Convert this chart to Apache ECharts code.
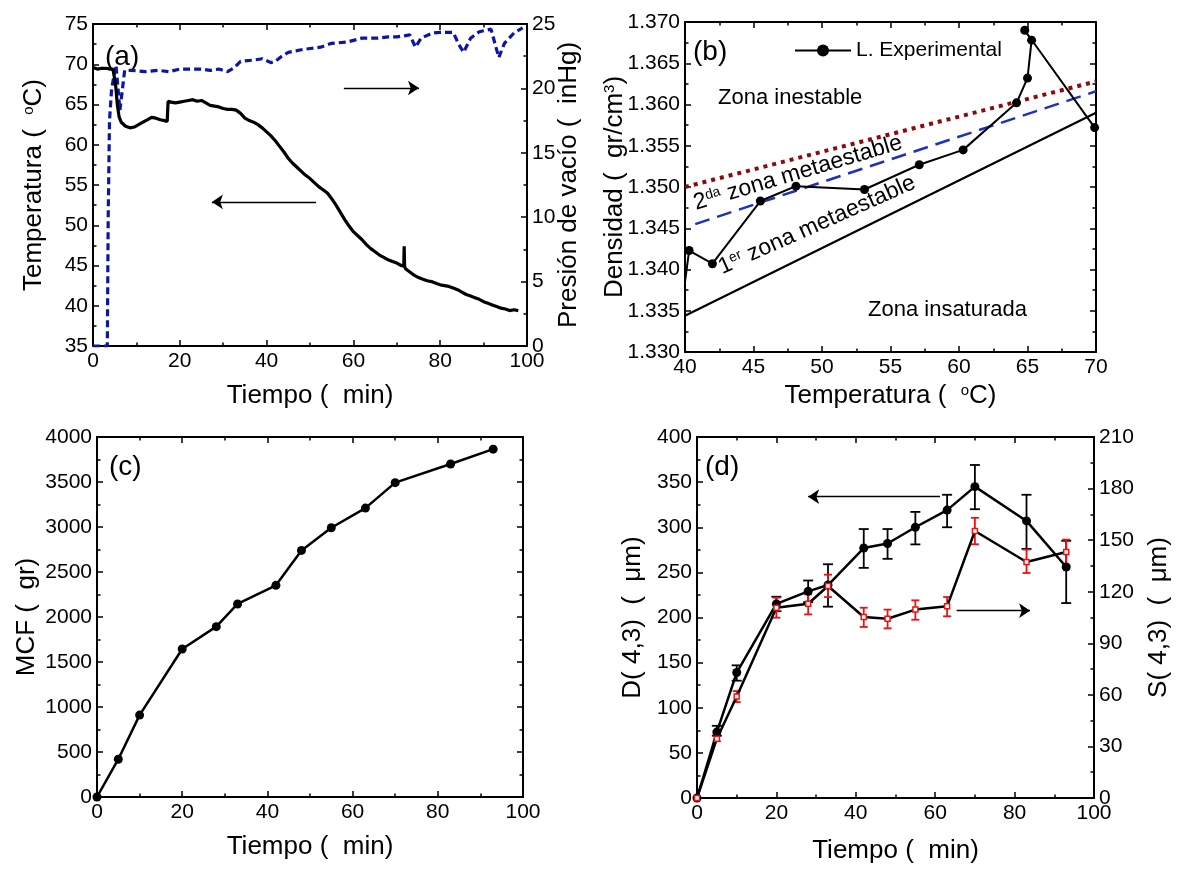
<!DOCTYPE html>
<html><head><meta charset="utf-8">
<script src="https://cdn.jsdelivr.net/npm/echarts@6/dist/echarts.min.js"></script>
<style>html,body{margin:0;padding:0;background:#fff}#c{width:1180px;height:869px}</style>
</head><body><div id="c"></div>
<script>
// ---------- Panel (a) ----------
const tempTime = [0,1,2,3,4,4.6,5.2,5.6,6.0,6.5,7.5,8.5,9.5,10.5,11.5,12.5,13.5,14.5,15.5,16.5,17.1,17.3,18,19,20,21,22,23,24,25,26,27,28,29,30,31,32,33,34,35,36,37,38,39,40,41,42,43,44,45,46,47,48,49,50,51,52,53,54,55,56,57,58,59,60,61,62,63,64,65,66,67,68,69,70,71,71.6,71.7,71.8,72,73,74,75,76,77,78,79,80,81,82,83,84,85,86,87,88,89,90,91,92,93,94,95,96,97,98];
const tempValue = [69.6,69.4,69.5,69.5,69.4,69.4,67.5,65.0,63.5,62.8,62.3,62.1,62.2,62.5,62.8,63.1,63.4,63.3,63.1,63.0,62.9,65.4,65.3,65.2,65.3,65.4,65.5,65.6,65.4,65.5,65.2,64.9,64.8,64.7,64.5,64.4,64.4,64.3,63.9,63.3,63.0,62.8,62.5,62.1,61.6,61.1,60.5,59.8,59.1,58.3,57.7,57.2,56.7,56.2,55.8,55.3,54.8,54.4,54.0,53.3,52.5,51.6,50.7,49.9,49.2,48.7,48.2,47.6,47.1,46.7,46.3,46.0,45.7,45.5,45.3,45.0,44.9,47.4,44.9,44.6,44.2,43.8,43.5,43.3,43.1,43.0,42.8,42.6,42.5,42.4,42.2,42.0,41.7,41.4,41.2,41.0,40.8,40.5,40.3,40.1,39.9,39.7,39.6,39.4,39.5,39.4];
const presTime = [0,3.3,3.5,3.8,4.3,5.3,6.2,7.3,9,12,15,17.5,20,22,25,27,29,31,32.5,34,37,39,41,42,43.5,45,48,50,52.4,55,58.5,62,65.5,68,70,73,74.3,75.6,78.2,80,83,84.3,85.4,87,89,91.7,93.5,94.8,97,99];
const presValue = [0,0,10,17.5,20,21.8,18.3,21.4,21.4,21.3,21.4,21.3,21.5,21.5,21.5,21.4,21.5,21.3,21.6,22.1,22.2,22.3,22.0,22.1,22.5,22.8,23.0,23.1,23.2,23.5,23.6,23.9,23.9,24.0,24.0,24.15,23.2,23.9,24.3,24.35,24.35,23.4,22.8,23.9,24.4,24.6,22.4,23.5,24.3,24.7];
const aArrows = [[57.8,67.05,75.1,67.05],[51.4,52.9,27.4,52.9]];

// ---------- Panel (b) ----------
const expTemp = [40.0,40.3,42.0,45.5,48.1,53.1,57.1,60.3,64.2,65.0,65.3,64.8,69.9];
const expDens = [1.3385,1.3423,1.3407,1.3483,1.3501,1.3497,1.3527,1.3545,1.3602,1.3632,1.3678,1.3690,1.3572];
const solTemp = [40,70];
const solDens = [1.3344,1.3590];
const meta2Temp = [40.75,70];
const meta2Dens = [1.3455,1.3616];
const limTemp = [40,70];
const limDens = [1.3500,1.3628];

// ---------- Panel (c) ----------
const mcfTime = [0,5,10,20,28,33,42,48,55,63,70,83,93];
const mcfValue = [0,420,910,1645,1893,2145,2352,2740,2992,3210,3493,3700,3865];

// ---------- Panel (d) ----------
const dTime = [0,5,10,20,28,33,42,48,55,63,70,83,93];
const dValue = [0,73,139,215,229,236,277,282,300,319,345,307,256];
const dLow = [0,69,130,207,217,212,255,265,281,300,320,276,216];
const dHigh = [0,80,147,223,241,259,298,298,317,336,369,336,285];
const sValue = [0,34.5,59,110.7,113,123.3,105.3,104.3,109.6,111.5,155.3,137.3,143.1];
const sLow = [0,33,55.8,104.9,106.8,116.9,99.5,98.7,103.7,105.7,147.6,130.9,135.3];
const sHigh = [0,37,62.2,116.5,118.5,129.9,110.7,109.6,115,116.9,163,144.5,150.3];
const dArrows = [[61.2,333.9,28.0,333.9],[65.4,207.6,83.9,207.6]];

// ---------- helpers ----------
const FONT = '"Liberation Sans", Arial, sans-serif';
const K = '#000';
const zip = (a, b) => a.map((v, i) => [v, b[i]]);
const zip3 = (a, b, c) => a.map((v, i) => [v, b[i], c[i]]);

function valAxis(o) {
  return Object.assign({
    type: 'value',
    axisLine: {show: true, onZero: false, lineStyle: {color: K, width: 2}},
    axisTick: {show: true, inside: true, length: 6, lineStyle: {color: K, width: 1.5}},
    minorTick: {show: true, splitNumber: 2, length: 3.5, lineStyle: {color: K, width: 1.5}},
    splitLine: {show: false},
    minorSplitLine: {show: false},
    axisLabel: {color: K, fontSize: 21, fontFamily: FONT, margin: 5, formatter: v => String(v)},
    nameLocation: 'middle',
    nameMoveOverlap: false,
    nameTextStyle: {color: K, fontSize: 26, fontFamily: FONT,
      rich: {s: {fontSize: 15, fontFamily: FONT, color: K, verticalAlign: 'top'}}}
  }, o);
}
function frameAxis(o) { return valAxis(Object.assign({axisLabel: {show: false}}, o)); }

function arrows(list) {
  return {
    silent: true, animation: false,
    symbol: ['none', 'arrow'], symbolSize: 11,
    lineStyle: {color: K, width: 1.3, type: 'solid'},
    itemStyle: {color: K},
    label: {show: false},
    data: list.map(p => [{coord: [p[0], p[1]]}, {coord: [p[2], p[3]]}])
  };
}
function errBar(color, half, lw) {
  return function (params, api) {
    const x = api.value(0), lo = api.value(1), hi = api.value(2);
    if (!(hi > lo)) return {type: 'group', children: []};
    const a = api.coord([x, lo]), b = api.coord([x, hi]);
    const s = {stroke: color, lineWidth: lw};
    return {type: 'group', children: [
      {type: 'line', shape: {x1: a[0], y1: a[1], x2: b[0], y2: b[1]}, style: s},
      {type: 'line', shape: {x1: a[0] - half, y1: a[1], x2: a[0] + half, y2: a[1]}, style: s},
      {type: 'line', shape: {x1: b[0] - half, y1: b[1], x2: b[0] + half, y2: b[1]}, style: s}
    ]};
  };
}
const expData = zip(expTemp, expDens).map((p, i) => i === 0 ? {value: p, symbol: 'none'} : p);

const chart = echarts.init(document.getElementById('c'), null, {renderer: 'canvas'});
chart.setOption({
  animation: false,
  backgroundColor: '#fff',
  grid: [
    {left: 93, top: 24, width: 434, height: 322, outerBoundsMode: 'none', containLabel: false},
    {left: 685, top: 22, width: 411, height: 330, outerBoundsMode: 'none', containLabel: false},
    {left: 97, top: 437, width: 426, height: 360, outerBoundsMode: 'none', containLabel: false},
    {left: 697, top: 437, width: 397, height: 361, outerBoundsMode: 'none', containLabel: false}
  ],
  legend: {
    left: 789, top: 35, data: ['L. Experimental'], itemWidth: 56, itemHeight: 15,
    textStyle: {color: K, fontSize: 21, fontFamily: FONT}
  },
  xAxis: [
    valAxis({gridIndex: 0, min: 0, max: 100, interval: 20, name: 'Tiempo (  min)', nameGap: 37}),
    frameAxis({gridIndex: 0, position: 'top', min: 0, max: 100, interval: 20}),
    valAxis({gridIndex: 1, min: 40, max: 70, interval: 5, name: 'Temperatura (  {s|o}C)', nameGap: 31}),
    frameAxis({gridIndex: 1, position: 'top', min: 40, max: 70, interval: 5}),
    valAxis({gridIndex: 2, min: 0, max: 100, interval: 20, name: 'Tiempo (  min)', nameGap: 37}),
    frameAxis({gridIndex: 2, position: 'top', min: 0, max: 100, interval: 20}),
    valAxis({gridIndex: 3, min: 0, max: 100, interval: 20, name: 'Tiempo (  min)', nameGap: 40}),
    frameAxis({gridIndex: 3, position: 'top', min: 0, max: 100, interval: 20})
  ],
  yAxis: [
    valAxis({gridIndex: 0, min: 35, max: 75, interval: 5, name: 'Temperatura (  {s|o}C)', nameGap: 46}),
    valAxis({gridIndex: 0, position: 'right', min: 0, max: 25, interval: 5, name: 'Presión de vacío (  inHg)', nameGap: 29}),
    valAxis({gridIndex: 1, min: 1.33, max: 1.37, interval: 0.005, name: 'Densidad (  gr/cm{s|3})', nameGap: 57,
      axisLabel: {color: K, fontSize: 21, fontFamily: FONT, margin: 5, formatter: v => v.toFixed(3)}}),
    frameAxis({gridIndex: 1, position: 'right', min: 1.33, max: 1.37, interval: 0.005}),
    valAxis({gridIndex: 2, min: 0, max: 4000, interval: 500, name: 'MCF (  gr)', nameGap: 57}),
    frameAxis({gridIndex: 2, position: 'right', min: 0, max: 4000, interval: 500}),
    valAxis({gridIndex: 3, min: 0, max: 400, interval: 50, name: 'D( 4,3)  (  μm)', nameGap: 51}),
    valAxis({gridIndex: 3, position: 'right', min: 0, max: 210, interval: 30, name: 'S( 4,3)  (  μm)', nameGap: 52})
  ],
  series: [
    {type: 'line', xAxisIndex: 0, yAxisIndex: 0, data: zip(tempTime, tempValue), showSymbol: false,
      lineStyle: {color: K, width: 3.2}, z: 3, markLine: arrows(aArrows)},
    {type: 'line', xAxisIndex: 0, yAxisIndex: 1, data: zip(presTime, presValue), showSymbol: false,
      lineStyle: {color: '#0b16a4', width: 3.2, type: [7, 4]}, z: 2},
    {type: 'line', xAxisIndex: 2, yAxisIndex: 2, data: zip(solTemp, solDens), showSymbol: false,
      lineStyle: {color: K, width: 2.2}},
    {type: 'line', xAxisIndex: 2, yAxisIndex: 2, data: zip(meta2Temp, meta2Dens), showSymbol: false,
      lineStyle: {color: '#1f2fbf', width: 2.5, type: [15, 8]}},
    {type: 'line', xAxisIndex: 2, yAxisIndex: 2, data: zip(limTemp, limDens), showSymbol: false,
      lineStyle: {color: '#8e0a0a', width: 4, type: [4, 5]}},
    {type: 'line', name: 'L. Experimental', xAxisIndex: 2, yAxisIndex: 2, data: expData,
      symbol: 'circle', symbolSize: 9, itemStyle: {color: K}, lineStyle: {color: K, width: 2}, z: 4},
    {type: 'line', xAxisIndex: 4, yAxisIndex: 4, data: zip(mcfTime, mcfValue),
      symbol: 'circle', symbolSize: 9, itemStyle: {color: K}, lineStyle: {color: K, width: 2.5}},
    {type: 'custom', xAxisIndex: 6, yAxisIndex: 6, data: zip3(dTime, dLow, dHigh),
      encode: {x: 0, y: [1, 2]}, renderItem: errBar('#000', 5, 1.8), z: 2},
    {type: 'custom', xAxisIndex: 6, yAxisIndex: 7, data: zip3(dTime, sLow, sHigh),
      encode: {x: 0, y: [1, 2]}, renderItem: errBar('#ee1111', 4, 1.8), z: 2},
    {type: 'line', xAxisIndex: 6, yAxisIndex: 6, data: zip(dTime, dValue),
      symbol: 'circle', symbolSize: 9, itemStyle: {color: K}, lineStyle: {color: K, width: 2.5}, z: 3,
      markLine: arrows(dArrows)},
    {type: 'line', xAxisIndex: 6, yAxisIndex: 7, data: zip(dTime, sValue),
      symbol: 'rect', symbolSize: 5, itemStyle: {color: '#fff', borderColor: '#ee1111', borderWidth: 1.5},
      lineStyle: {color: K, width: 2.5}, z: 3}
  ],
  graphic: [
    {type: 'text', x: 105, y: 57, style: {text: '(a)', fontSize: 28, fontFamily: FONT, fill: K, align: 'left', verticalAlign: 'middle'}},
    {type: 'text', x: 693, y: 52, style: {text: '(b)', fontSize: 28, fontFamily: FONT, fill: K, align: 'left', verticalAlign: 'middle'}},
    {type: 'text', x: 109, y: 467, style: {text: '(c)', fontSize: 28, fontFamily: FONT, fill: K, align: 'left', verticalAlign: 'middle'}},
    {type: 'text', x: 705, y: 467, style: {text: '(d)', fontSize: 28, fontFamily: FONT, fill: K, align: 'left', verticalAlign: 'middle'}},
    {type: 'text', x: 718, y: 98, style: {text: 'Zona inestable', fontSize: 22, fontFamily: FONT, fill: K, align: 'left', verticalAlign: 'middle'}},
    {type: 'text', x: 868, y: 310, style: {text: 'Zona insaturada', fontSize: 22, fontFamily: FONT, fill: K, align: 'left', verticalAlign: 'middle'}},
    {type: 'text', x: 798, y: 173, rotation: 16.5 * Math.PI / 180,
      style: {text: '2{s|da} zona metaestable', fontSize: 23, fontFamily: FONT, fill: K, align: 'center', verticalAlign: 'middle',
        rich: {s: {fontSize: 14, fontFamily: FONT, fill: K, verticalAlign: 'top'}}}},
    {type: 'text', x: 817, y: 225, rotation: 24 * Math.PI / 180,
      style: {text: '1{s|er} zona metaestable', fontSize: 23, fontFamily: FONT, fill: K, align: 'center', verticalAlign: 'middle',
        rich: {s: {fontSize: 14, fontFamily: FONT, fill: K, verticalAlign: 'top'}}}}
  ]
});
</script>
</body></html>
